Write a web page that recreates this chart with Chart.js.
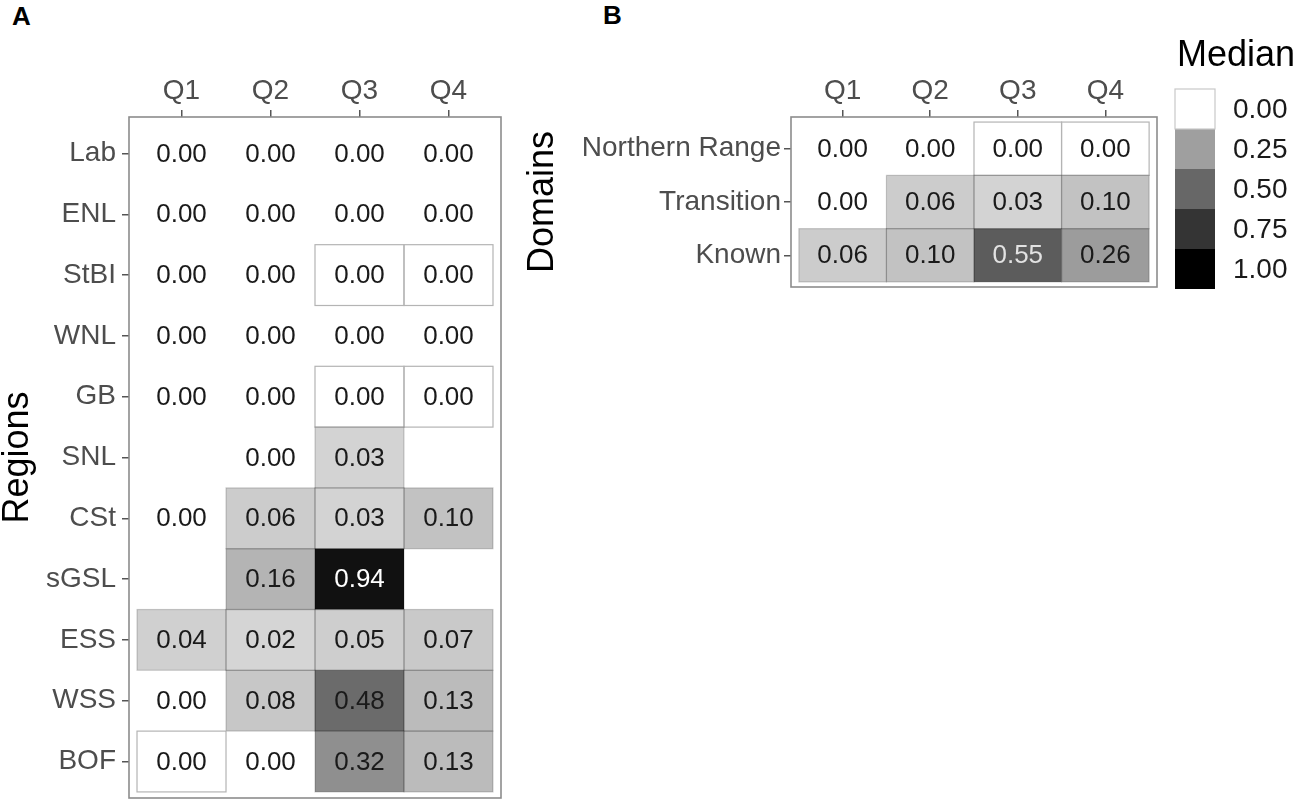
<!DOCTYPE html>
<html>
<head>
<meta charset="utf-8">
<script src="https://cdn.jsdelivr.net/npm/chart.js@4.4.1/dist/chart.umd.min.js"></script>
<style>
  html, body { margin: 0; padding: 0; background: #fff; }
  body { width: 1299px; height: 809px; position: relative; overflow: hidden; font-family: "Liberation Sans", Arial, sans-serif; }
  .tag { position: absolute; font-weight: bold; font-size: 26px; color: #000; line-height: 30px; }
  canvas { position: absolute; }
</style>
</head>
<body>
<div class="tag" style="left:12px;top:1px">A</div>
<div class="tag" style="left:603px;top:0px">B</div>
<canvas id="regionChart" width="540" height="809" style="left:0;top:0"></canvas>
<canvas id="domainChart" width="777" height="300" style="left:522px;top:0"></canvas>
<script>
const quarters = ['Q1', 'Q2', 'Q3', 'Q4'];

// panel A - regions (null = no tile)
const regions = ['Lab', 'ENL', 'StBI', 'WNL', 'GB', 'SNL', 'CSt', 'sGSL', 'ESS', 'WSS', 'BOF'];
const regionQ1 = [0, 0, 0, 0, 0, null, 0, null, 0.04, 0, 0];
const regionQ2 = [0, 0, 0, 0, 0, 0, 0.06, 0.16, 0.02, 0.08, 0];
const regionQ3 = [0, 0, 0, 0, 0, 0.03, 0.03, 0.94, 0.05, 0.48, 0.32];
const regionQ4 = [0, 0, 0, 0, 0, null, 0.10, null, 0.07, 0.13, 0.13];
const regionOutlined = ['StBI|Q3', 'StBI|Q4', 'GB|Q3', 'GB|Q4', 'BOF|Q1'];

// panel B - domains
const domains = ['Northern Range', 'Transition', 'Known'];
const domainQ1 = [0, 0, 0.06];
const domainQ2 = [0, 0.06, 0.10];
const domainQ3 = [0, 0.03, 0.55];
const domainQ4 = [0, 0.10, 0.26];
const domainOutlined = ['Northern Range|Q3', 'Northern Range|Q4'];

const legendTitle = 'Median';
const legendValues = [0, 0.25, 0.5, 0.75, 1];

const FONT = '"Liberation Sans", Arial, sans-serif';
Chart.defaults.font.family = FONT;

// grey gradient in Lab lightness, zero drawn white
function shade(v) {
  if (v === 0) return '#ffffff';
  const L = 87.1 * (1 - v);
  const Y = L > 8 ? Math.pow((L + 16) / 116, 3) : L / 903.3;
  const c = Y <= 0.0031308 ? 12.92 * Y : 1.055 * Math.pow(Y, 1 / 2.4) - 0.055;
  const g = Math.round(Math.max(0, Math.min(1, c)) * 255);
  return `rgb(${g},${g},${g})`;
}

function buildCells(rows, cols) {
  const pts = [];
  rows.forEach((r, ri) => {
    cols.forEach((col, ci) => {
      const v = col[ri];
      if (v === null) return;
      pts.push({ x: ci + 1, y: ri + 1, v: v, key: r + '|' + quarters[ci] });
    });
  });
  return pts;
}

const heatCells = {
  id: 'heatCells',
  afterDatasetsDraw(chart, args, opts) {
    const { ctx, scales: { x, y } } = chart;
    const meta = chart.getDatasetMeta(0);
    const pts = chart.data.datasets[0].data;
    const w = Math.abs(x.getPixelForValue(1) - x.getPixelForValue(0));
    const h = Math.abs(y.getPixelForValue(1) - y.getPixelForValue(0));
    ctx.save();
    meta.data.forEach((el, i) => {
      ctx.fillStyle = shade(pts[i].v);
      ctx.fillRect(el.x - w / 2, el.y - h / 2, w, h);
    });
    meta.data.forEach((el, i) => {
      const d = pts[i];
      if (d.v > 0) {
        ctx.strokeStyle = 'rgba(0,0,0,0.18)';
      } else if (opts.outlined.includes(d.key)) {
        ctx.strokeStyle = '#b4b4b4';
      } else {
        return;
      }
      ctx.lineWidth = 1.2;
      ctx.strokeRect(el.x - w / 2, el.y - h / 2, w, h);
    });
    ctx.font = '26px ' + FONT;
    ctx.textAlign = 'center';
    ctx.textBaseline = 'middle';
    meta.data.forEach((el, i) => {
      const v = pts[i].v;
      ctx.fillStyle = v > 0.9 ? '#ffffff' : v >= 0.5 ? '#e2e2e2' : '#1a1a1a';
      ctx.fillText(v.toFixed(2), el.x, el.y + 1);
    });
    ctx.restore();
  },
  afterDraw(chart) {
    const { ctx, chartArea: a } = chart;
    ctx.save();
    ctx.strokeStyle = '#8c8c8c';
    ctx.lineWidth = 1.6;
    ctx.strokeRect(a.left, a.top, a.right - a.left, a.bottom - a.top);
    ctx.restore();
  }
};

const medianLegend = {
  id: 'medianLegend',
  afterDraw(chart) {
    const ctx = chart.ctx;
    const left = 653, top = 89, bw = 40, bh = 40;
    ctx.save();
    ctx.fillStyle = '#000';
    ctx.font = '36px ' + FONT;
    ctx.textAlign = 'left';
    ctx.textBaseline = 'alphabetic';
    ctx.fillText(legendTitle, left + 2, 66);
    legendValues.forEach((v, i) => {
      ctx.fillStyle = shade(v);
      ctx.fillRect(left, top + i * bh, bw, bh);
    });
    ctx.strokeStyle = '#c8c8c8';
    ctx.lineWidth = 1.2;
    ctx.strokeRect(left, top, bw, bh);
    ctx.font = '28px ' + FONT;
    ctx.fillStyle = '#1a1a1a';
    ctx.textBaseline = 'middle';
    legendValues.forEach((v, i) => {
      ctx.fillText(v.toFixed(2), left + 58, top + i * bh + bh / 2 + 1);
    });
    ctx.restore();
  }
};

function heatOptions(rows, cfg) {
  return {
    responsive: false,
    animation: false,
    layout: { padding: cfg.padding },
    plugins: {
      legend: { display: false },
      tooltip: { enabled: false },
      heatCells: { outlined: cfg.outlined }
    },
    scales: {
      x: {
        type: 'linear',
        position: 'top',
        min: 0.41,
        max: 4.59,
        afterBuildTicks: s => { s.ticks = quarters.map((q, i) => ({ value: i + 1 })); },
        afterFit: s => { s.height = cfg.xHeight; s.paddingLeft = 0; s.paddingRight = 0; },
        ticks: {
          callback: v => quarters[v - 1],
          color: '#4d4d4d',
          font: { size: 28 },
          padding: 2,
          autoSkip: false,
          maxRotation: 0
        },
        grid: { drawOnChartArea: false, drawTicks: true, tickLength: 7, color: '#555', lineWidth: 1.5 },
        border: { display: false }
      },
      y: {
        type: 'linear',
        reverse: true,
        min: cfg.yMin,
        max: cfg.yMax,
        afterBuildTicks: s => { s.ticks = rows.map((r, i) => ({ value: i + 1 })); },
        afterFit: s => { s.width = cfg.yWidth; s.paddingTop = 0; s.paddingBottom = 0; },
        ticks: {
          callback: v => rows[v - 1],
          color: '#4d4d4d',
          font: { size: 28 },
          padding: cfg.tickPad,
          autoSkip: false
        },
        grid: { drawOnChartArea: false, drawTicks: true, tickLength: 7, color: '#555', lineWidth: 1.5 },
        border: { display: false },
        title: {
          display: true,
          text: cfg.title,
          color: '#000',
          font: { size: 36, lineHeight: 1 },
          padding: { top: cfg.titlePad, bottom: 0 }
        }
      }
    }
  };
}

new Chart(document.getElementById('regionChart'), {
  type: 'scatter',
  data: {
    datasets: [{
      data: buildCells(regions, [regionQ1, regionQ2, regionQ3, regionQ4]),
      pointRadius: 0
    }]
  },
  options: heatOptions(regions, {
    padding: { left: 0, top: 0, right: 39, bottom: 11 },
    xHeight: 117, yWidth: 129, yMin: 0.4, yMax: 11.6,
    tickPad: 6, title: 'Regions', titlePad: 0, outlined: regionOutlined
  }),
  plugins: [heatCells]
});

new Chart(document.getElementById('domainChart'), {
  type: 'scatter',
  data: {
    datasets: [{
      data: buildCells(domains, [domainQ1, domainQ2, domainQ3, domainQ4]),
      pointRadius: 0
    }]
  },
  options: heatOptions(domains, {
    padding: { left: 0, top: 0, right: 142, bottom: 13 },
    xHeight: 117, yWidth: 269, yMin: 0.405, yMax: 3.595,
    tickPad: 3, title: 'Domains', titlePad: 3, outlined: domainOutlined
  }),
  plugins: [heatCells, medianLegend]
});
</script>
</body>
</html>
